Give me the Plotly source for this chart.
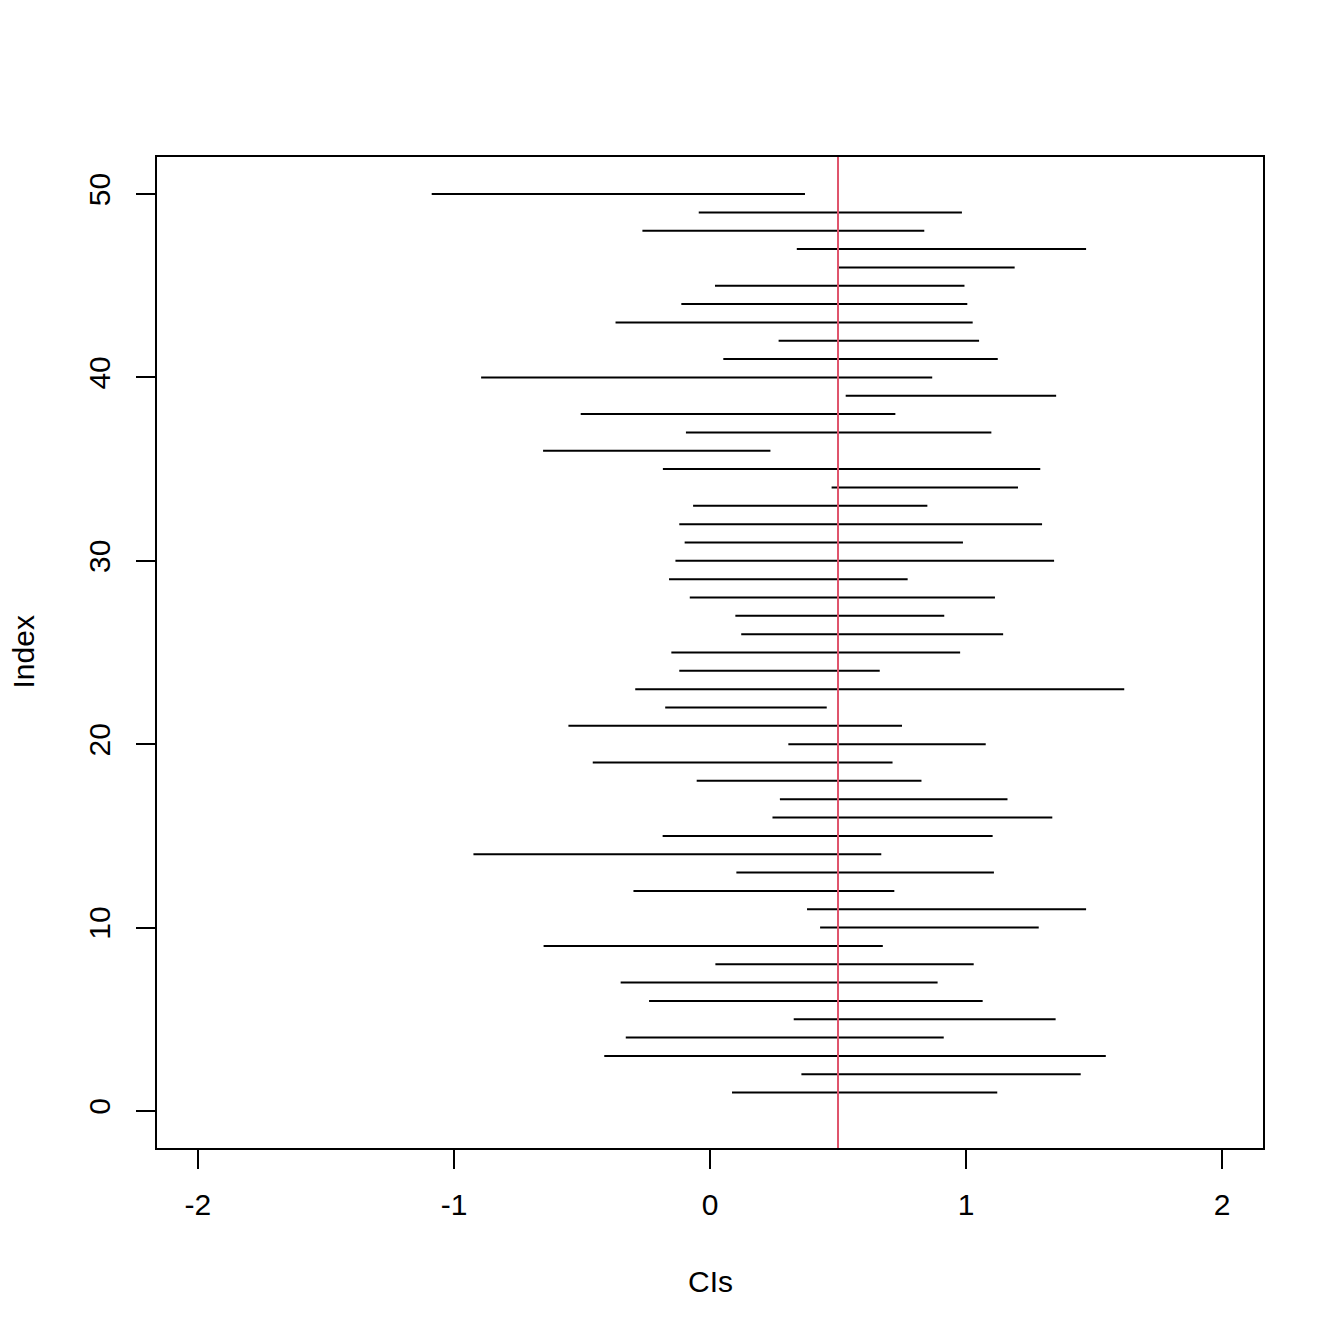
import plotly.graph_objects as go

index = list(range(1, 51))
lower = [0.086, 0.357, -0.413, -0.329, 0.327, -0.238, -0.349, 0.021, -0.650, 0.430,
         0.379, -0.299, 0.103, -0.924, -0.185, 0.244, 0.273, -0.052, -0.458, 0.306,
         -0.553, -0.175, -0.292, -0.120, -0.151, 0.122, 0.099, -0.079, -0.160, -0.135,
         -0.099, -0.120, -0.066, 0.475, -0.184, -0.652, -0.094, -0.505, 0.530, -0.894,
         0.052, 0.268, -0.369, -0.112, 0.0195, 0.501, 0.339, -0.264, -0.044, -1.087]
upper = [1.122, 1.448, 1.546, 0.913, 1.350, 1.065, 0.889, 1.030, 0.675, 1.284,
         1.469, 0.720, 1.109, 0.669, 1.104, 1.337, 1.162, 0.826, 0.713, 1.077,
         0.750, 0.456, 1.618, 0.663, 0.977, 1.145, 0.915, 1.113, 0.772, 1.344,
         0.988, 1.297, 0.849, 1.203, 1.290, 0.236, 1.099, 0.724, 1.352, 0.868,
         1.124, 1.051, 1.026, 1.005, 0.994, 1.190, 1.469, 0.837, 0.984, 0.371]
true_value = 0.5
x_ticks = [-2, -1, 0, 1, 2]
y_ticks = [0, 10, 20, 30, 40, 50]

xs, ys = [], []
for i, lo, hi in zip(index, lower, upper):
    xs += [lo, hi, None]
    ys += [i, i, None]

FONT = "Liberation Sans, Arial, Helvetica, sans-serif"

fig = go.Figure()
fig.add_trace(go.Scatter(x=xs, y=ys, mode="lines",
                         line=dict(color="black", width=2), showlegend=False,
                         hoverinfo="skip"))
fig.add_shape(type="line", x0=true_value, x1=true_value, xref="x",
              y0=0, y1=1, yref="paper", line=dict(color="#DF536B", width=2))

fig.update_layout(
    width=1344, height=1344,
    margin=dict(l=149, r=89, t=149, b=204),
    paper_bgcolor="white", plot_bgcolor="white",
    font=dict(family=FONT, size=32, color="black"),
    xaxis=dict(range=[-2.16, 2.16], tickvals=x_ticks, ticktext=[str(v) for v in x_ticks],
               ticks="outside", ticklen=19, tickwidth=2, tickcolor="black",
               showline=True, linecolor="black", linewidth=2, mirror=True,
               showgrid=False, zeroline=False, ticklabelstandoff=10,
               tickfont=dict(family=FONT, size=30)),
    yaxis=dict(range=[-2.02, 52.02], tickvals=y_ticks, ticktext=[str(v) for v in y_ticks],
               ticks="outside", ticklen=19, tickwidth=2, tickcolor="black",
               showline=True, linecolor="black", linewidth=2, mirror=True,
               showgrid=False, zeroline=False, tickangle=-90, ticklabelstandoff=14,
               tickfont=dict(family=FONT, size=30)),
    annotations=[
        dict(text="CIs", xref="paper", yref="paper", x=0.5, y=(1148 - 1281) / 991,
             xanchor="center", yanchor="middle", showarrow=False,
             font=dict(family=FONT, size=30)),
        dict(text="Index", xref="paper", yref="paper", x=(23 - 157) / 1106, y=0.5,
             xanchor="center", yanchor="middle", showarrow=False, textangle=-90,
             font=dict(family=FONT, size=30)),
    ],
)

fig.write_html("out.html")
